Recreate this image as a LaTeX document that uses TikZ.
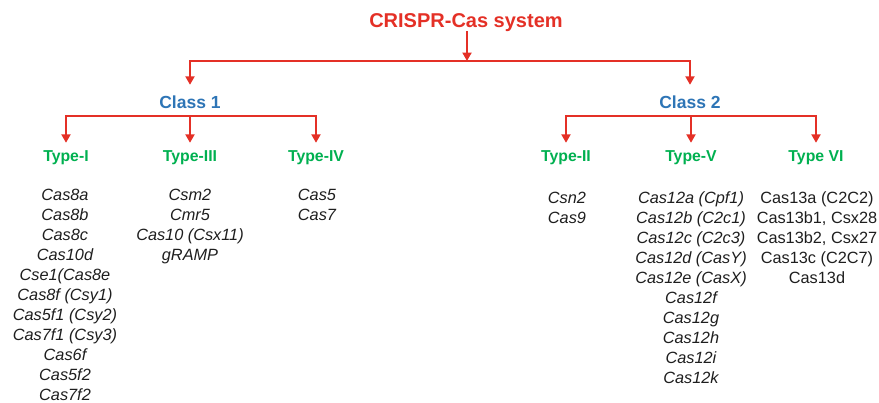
\documentclass[tikz,border=0pt]{standalone}
\usepackage{fontspec}
\setmainfont{Liberation Sans}
\usetikzlibrary{arrows.meta}
\definecolor{crred}{RGB}{228,48,38}
\definecolor{crblue}{RGB}{46,117,182}
\definecolor{crgreen}{RGB}{0,176,80}
\definecolor{crtext}{RGB}{30,30,30}
\tikzset{
  arr/.style={draw=crred, line width=2.8pt, -{Triangle[width=9pt,length=8.5pt]}},
  titlebox/.style={font=\bfseries\fontsize{20}{24}\selectfont, text=crred, inner sep=0pt, text height=14.5pt, text depth=0pt, inner ysep=4pt},
  classbox/.style={font=\bfseries\fontsize{17.5}{21}\selectfont, text=crblue, inner xsep=0pt, text height=13pt, text depth=0pt, inner ysep=10pt, anchor=base},
  typebox/.style={font=\bfseries\fontsize{15.8}{19}\selectfont, text=crgreen, inner xsep=0pt, text height=11.5pt, text depth=0pt, inner ysep=6.5pt, anchor=base},
  itembox/.style={font=\itshape\fontsize{16.3}{20}\selectfont, text=crtext, inner sep=0pt, anchor=base},
  uitembox/.style={font=\fontsize{16.3}{20}\selectfont, text=crtext, inner sep=0pt, anchor=base}
}
\begin{document}
\begin{tikzpicture}[x=1pt,y=-1pt]
\useasboundingbox (0,0) rectangle (879,402);
% title
\node[titlebox, anchor=base] (title) at (466,27) {CRISPR-Cas system};
% classes
\node[classbox] (c1) at (190,108) {Class 1};
\node[classbox] (c2) at (690,108) {Class 2};
% types
\node[typebox] (tI)   at (66,161)  {Type-I};
\node[typebox] (tIII) at (190,161) {Type-III};
\node[typebox] (tIV)  at (316,161) {Type-IV};
\node[typebox] (tII)  at (566,161) {Type-II};
\node[typebox] (tV)   at (691,161) {Type-V};
\node[typebox] (tVI)  at (816,161) {Type VI};
% junctions
\coordinate (j0) at (467,61);
\coordinate (k1) at (190,116);
\coordinate (k2) at (691,116);
% connectors
\draw[arr] (title.south -| j0) -- (j0);
\draw[arr] (j0) -| (c1.north);
\draw[arr] (j0) -| (c2.north);
\draw[arr] (k1) -| (tI.north);
\draw[arr] (k1) -- (tIII.north);
\draw[arr] (k1) -| (tIV.north);
\draw[arr] (k2) -| (tII.north);
\draw[arr] (k2) -- (tV.north);
\draw[arr] (k2) -| (tVI.north);
% lists
\foreach \t [count=\i] in {Cas8a,Cas8b,Cas8c,Cas10d,Cse1(Cas8e,Cas8f (Csy1),Cas5f1 (Csy2),Cas7f1 (Csy3),Cas6f,Cas5f2,Cas7f2}
  \node[itembox] (lI-\i) at (65,{200+20*(\i-1)}) {\t};
\foreach \t [count=\i] in {Csm2,Cmr5,Cas10 (Csx11),gRAMP}
  \node[itembox] (lIII-\i) at (190,{200+20*(\i-1)}) {\t};
\foreach \t [count=\i] in {Cas5,Cas7}
  \node[itembox] (lIV-\i) at (317,{200+20*(\i-1)}) {\t};
\foreach \t [count=\i] in {Csn2,Cas9}
  \node[itembox] (lII-\i) at (567,{203+20*(\i-1)}) {\t};
\foreach \t [count=\i] in {Cas12a (Cpf1),Cas12b (C2c1),Cas12c (C2c3),Cas12d (CasY),Cas12e (CasX),Cas12f,Cas12g,Cas12h,Cas12i,Cas12k}
  \node[itembox] (lV-\i) at (691,{203+20*(\i-1)}) {\t};
\foreach \t [count=\i] in {Cas13a (C2C2),{Cas13b1, Csx28},{Cas13b2, Csx27},Cas13c (C2C7),Cas13d}
  \node[uitembox] (lVI-\i) at (817,{203+20*(\i-1)}) {\t};
\end{tikzpicture}
\end{document}
